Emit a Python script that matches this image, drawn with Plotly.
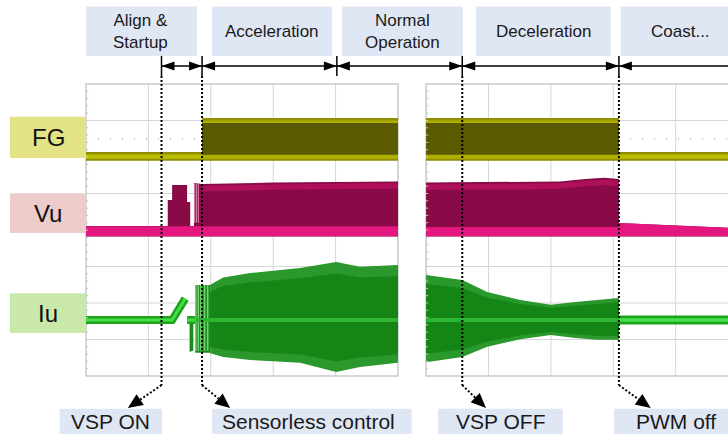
import math
import plotly.graph_objects as go

# ---------------- data (time and level in scope divisions) ----------------
PX_T = 62.4   # pixels per time division (scope grid)
PX_Y = 36.5   # pixels per vertical division

event_t = [1.21, 1.86, 4.02, 6.03, 8.54]          # phase boundaries
dotted_event_t = [1.21, 1.86, 6.03, 8.54]         # events with callouts

phase_labels = ["Align &<br>Startup", "Acceleration", "Normal<br>Operation", "Deceleration", "Coast..."]
phase_x0 = [0.0, 2.02, 4.10, 6.25, 8.57]
phase_x1 = [1.78, 3.94, 6.04, 8.41, 10.6]
phase_center = [0.88, 2.98, 5.07, 7.33, 9.52]

callout_labels = ["VSP ON", "Sensorless control", "VSP OFF", "PWM off"]
callout_x0 = [-0.42, 2.02, 5.64, 8.46]
callout_x1 = [1.22, 5.22, 7.64, 10.6]
callout_center = [0.39, 3.57, 6.65, 9.46]
callout_tip = [0.67, 2.31, 6.41, 9.05]

channel_labels = ["FG", "Vu", "Iu"]
channel_y0 = [5.97, 3.92, 1.18]
channel_y1 = [7.10, 5.01, 2.27]
channel_fill = ["#e3e386", "#eecbcb", "#c9e8aa"]

panel_t0 = [0.0, 5.45]
panel_t1 = [5.0, 10.45]

# FG (frequency generator) envelope
fg_t  = [0.0, 1.86, 1.86, 5.0, None, 5.45, 8.54, 8.54, 10.45]
fg_hi = [6.14, 6.14, 7.07, 7.07, None, 7.07, 7.07, 6.14, 6.14]
fg_lo = [5.90, 5.90, 5.90, 5.90, None, 5.90, 5.90, 5.90, 5.90]
fg_high_t = [1.86, 5.0, None, 5.45, 8.54]
fg_low_t = [0.0, 1.86, None, 8.54, 10.45]

# Vu (phase voltage) envelope
vu_t  = [0.0, 1.31, 1.31, 1.38, 1.38, 1.62, 1.62, 1.67, 1.67, 1.73, 1.73, 1.86, 3.0, 4.5, 5.0,
         None, 5.45, 7.0, 7.6, 8.0, 8.3, 8.54, 8.54, 10.45]
vu_hi = [4.11, 4.11, 4.82, 4.82, 5.23, 5.23, 4.77, 4.77, 4.11, 4.11, 5.29, 5.26, 5.30, 5.33, 5.33,
         None, 5.30, 5.31, 5.33, 5.40, 5.43, 5.40, 4.19, 4.05]
vu_lo = 3.82
vu_base_t  = [0.0, 5.0, None, 5.45, 8.54, 8.54, 10.45]
vu_base_hi = [4.10, 4.10, None, 4.08, 4.08, 4.19, 4.05]
vu_base_lo = 3.83
vu_act_t  = [1.86, 3.0, 4.5, 5.0, None, 5.45, 7.0, 7.6, 8.0, 8.3, 8.54]
vu_act_hi = [5.26, 5.30, 5.33, 5.33, None, 5.30, 5.31, 5.33, 5.40, 5.43, 5.40]
vu_stripe_t = [1.74, 1.77, 1.80]

# Iu (phase current) envelope
iu_center = 1.534
iu_env_t  = [1.99, 2.2, 2.63, 3.43, 4.01, 4.39, 5.0, None, 5.45, 6.03, 6.43, 6.96, 7.45, 7.84, 8.19, 8.54]
iu_env_hi = [2.50, 2.70, 2.82, 2.96, 3.12, 2.99, 3.04, None, 2.77, 2.63, 2.30, 2.08, 1.95, 2.03, 2.08, 2.14]
iu_env_lo = [0.62, 0.52, 0.44, 0.36, 0.11, 0.25, 0.36, None, 0.38, 0.52, 0.80, 1.01, 1.12, 1.04, 0.99, 0.99]
iu_pre_t = [0.0, 1.38, 1.59, None, 1.62, 1.75]
iu_pre_y = [1.534, 1.534, 2.12, None, 1.534, 1.534]
iu_spike_t, iu_spike_hi, iu_spike_lo = [1.66, 1.72], [1.55, 1.55], [0.66, 0.70]
iu_burst_t, iu_burst_hi, iu_burst_lo = [1.75, 1.99], [2.49, 2.49], [0.64, 0.64]
iu_stripe_t = [1.76, 1.80, 1.84, 1.90, 1.95]
iu_post_t = [8.54, 10.45]

FONT = "Liberation Sans, Arial, sans-serif"


# ---------------- helpers ----------------
def _list(v, n):
    return v if isinstance(v, list) else [v] * n


def band_xy(t, hi, lo):
    hi = _list(hi, len(t))
    lo = _list(lo, len(t))
    xs, ys, cur = [], [], []
    segs = []
    for i, v in enumerate(t):
        if v is None:
            if cur:
                segs.append(cur)
            cur = []
        else:
            cur.append(i)
    if cur:
        segs.append(cur)
    for idx in segs:
        ts = [t[i] for i in idx]
        xs += ts + ts[::-1] + [None]
        ys += [hi[i] for i in idx] + [lo[i] for i in idx][::-1] + [None]
    return xs, ys


def band(t, hi, lo, color):
    xs, ys = band_xy(t, hi, lo)
    return go.Scatter(x=xs, y=ys, mode="lines", fill="toself", fillcolor=color,
                      line=dict(width=0, color=color), hoverinfo="skip")


def line(t, y, color, width):
    return go.Scatter(x=t, y=y, mode="lines", line=dict(color=color, width=width),
                      hoverinfo="skip", connectgaps=False)


def offset(vals, d):
    return [None if v is None else v + d for v in vals]


def scale_about(vals, c, k):
    return [None if v is None else c + k * (v - c) for v in vals]


fig = go.Figure()

# ---------------- FG ----------------
fig.add_trace(band(fg_t, fg_hi, fg_lo, "#8f8f00"))
fig.add_trace(band(fg_high_t, [7.0, 7.0, None, 7.0, 7.0], 5.95, "#b0b000"))
fig.add_trace(band(fg_high_t, [6.93, 6.93, None, 6.93, 6.93], 6.06, "#5b5a00"))
fig.add_trace(band(fg_low_t, 6.07, 5.95, "#bdbd00"))

# ---------------- Vu ----------------
fig.add_trace(band(vu_t, vu_hi, vu_lo, "#8a0a47"))
fig.add_trace(band(vu_act_t, offset(vu_act_hi, -0.05), offset(vu_act_hi, -0.20), "#b0105a"))
vs_x, vs_y = [], []
for s in vu_stripe_t:
    vs_x += [s, s, None]
    vs_y += [5.27, 4.2, None]
fig.add_trace(line(vs_x, vs_y, "#d47aa2", 1.2))
fig.add_trace(band(vu_base_t, vu_base_hi, vu_base_lo, "#e3177f"))

# ---------------- Iu ----------------
fig.add_trace(band(iu_env_t, iu_env_hi, iu_env_lo, "#2a982c"))
fig.add_trace(band(iu_env_t, scale_about(iu_env_hi, iu_center, 0.80),
                   scale_about(iu_env_lo, iu_center, 0.80), "#158516"))
fig.add_trace(band(iu_burst_t, iu_burst_hi, iu_burst_lo, "#1a8c1c"))
is_x, is_y = [], []
for s in iu_stripe_t:
    is_x += [s, s, None]
    is_y += [iu_burst_hi[0], iu_burst_lo[0] + 0.05, None]
fig.add_trace(line(is_x, is_y, "#74d274", 1.5))
fig.add_trace(band(iu_spike_t, iu_spike_hi, iu_spike_lo, "#1a8c1c"))
fig.add_trace(line(iu_pre_t, iu_pre_y, "#1fa01f", 8))
fig.add_trace(line(iu_pre_t, iu_pre_y, "#46de46", 3))
fig.add_trace(line(iu_post_t, [iu_center] * 2, "#1fa01f", 9))
fig.add_trace(line(iu_post_t, [iu_center] * 2, "#48e048", 3.5))
fig.add_trace(line([1.75, 5.0, None, 5.45, 8.54], [iu_center, iu_center, None, iu_center, iu_center],
                   "#2db62f", 4))

# ---------------- scope panels (grid) ----------------
shapes = []
tick_x, tick_y = [], []
for t0, t1 in zip(panel_t0, panel_t1):
    for k in range(1, 5):
        shapes.append(dict(type="line", xref="x", yref="y", x0=t0 + k, x1=t0 + k, y0=0, y1=8,
                           line=dict(color="#d6d6d6", width=1), layer="below"))
    for k in range(1, 8):
        shapes.append(dict(type="line", xref="x", yref="y", x0=t0, x1=t1, y0=k, y1=k,
                           line=dict(color="#d6d6d6", width=1), layer="below"))
    shapes.append(dict(type="line", xref="x", yref="y", x0=t0, x1=t1, y0=6.5, y1=6.5,
                       line=dict(color="#c4c4c4", width=2, dash="1px,11px"), layer="below"))
    shapes.append(dict(type="rect", xref="x", yref="y", x0=t0, x1=t1, y0=0, y1=8,
                       line=dict(color="#cacaca", width=1.5), layer="below"))
    for k in range(1, 40):
        tick_x += [t0, t0 + 0.035, None]
        tick_y += [k * 0.2, k * 0.2, None]
fig.add_trace(line(tick_x, tick_y, "#c4c4c4", 1))

# ---------------- phase boxes & texts ----------------
annotations = []
for lab, x0, x1, cx in zip(phase_labels, phase_x0, phase_x1, phase_center):
    shapes.append(dict(type="rect", xref="x", yref="y", x0=x0, x1=x1, y0=8.77, y1=10.12,
                       fillcolor="#dfe6f4", line=dict(width=0), layer="below"))
    annotations.append(dict(x=cx, y=9.45, xref="x", yref="y", text=lab, showarrow=False,
                            font=dict(family=FONT, size=17, color="#1a1a1a"),
                            xanchor="center", yanchor="middle"))

for lab, x0, x1, cx in zip(callout_labels, callout_x0, callout_x1, callout_center):
    shapes.append(dict(type="rect", xref="x", yref="y", x0=x0, x1=x1, y0=-0.90, y1=-1.8,
                       fillcolor="#dfe6f4", line=dict(width=0), layer="below"))
    annotations.append(dict(x=cx, y=-1.24, xref="x", yref="y", text=lab, showarrow=False,
                            font=dict(family=FONT, size=21, color="#1a1a1a"),
                            xanchor="center", yanchor="middle"))

for lab, y0, y1, col in zip(channel_labels, channel_y0, channel_y1, channel_fill):
    shapes.append(dict(type="rect", xref="x", yref="y", x0=-1.218, x1=0, y0=y0, y1=y1,
                       fillcolor=col, line=dict(width=0), layer="below"))
    annotations.append(dict(x=-0.609, y=(y0 + y1) / 2, xref="x", yref="y", text=lab, showarrow=False,
                            font=dict(family=FONT, size=24, color="#111111"),
                            xanchor="center", yanchor="middle"))

# ---------------- timing arrows ----------------
ARROW_Y = 8.49
HEAD_L = 13 / PX_T
HEAD_H = 4.5 / PX_Y
shapes.append(dict(type="line", xref="x", yref="y", x0=event_t[0], x1=10.6, y0=ARROW_Y, y1=ARROW_Y,
                   line=dict(color="black", width=1.5), layer="above"))


def tri(tip_x, tip_y, direction):
    bx = tip_x - direction * HEAD_L
    return f"M{tip_x},{tip_y} L{bx},{tip_y + HEAD_H} L{bx},{tip_y - HEAD_H} Z"


for i in range(len(event_t)):
    shapes.append(dict(type="path", xref="x", yref="y", path=tri(event_t[i], ARROW_Y, -1),
                       fillcolor="black", line=dict(width=0), layer="above"))
    if i + 1 < len(event_t):
        shapes.append(dict(type="path", xref="x", yref="y", path=tri(event_t[i + 1], ARROW_Y, 1),
                           fillcolor="black", line=dict(width=0), layer="above"))
for t in event_t:
    shapes.append(dict(type="line", xref="x", yref="y", x0=t, x1=t, y0=8.22, y1=8.77,
                       line=dict(color="black", width=1.5), layer="above"))

# ---------------- dotted callout lines ----------------
DOT = dict(color="black", width=2, dash="2px,2px")
LINE_END_Y = -0.25
TIP_Y = -0.88
for t, tip in zip(dotted_event_t, callout_tip):
    shapes.append(dict(type="line", xref="x", yref="y", x0=t, x1=t, y0=8.22, y1=LINE_END_Y,
                       line=DOT, layer="above"))
    dxp = (tip - t) * PX_T
    dyp = (TIP_Y - LINE_END_Y) * PX_Y
    n = math.hypot(dxp, dyp)
    ux, uy = dxp / n, dyp / n
    L, W = 15.0, 6.5
    bxp, byp = -ux * L, -uy * L
    base_x = tip + bxp / PX_T
    base_y = TIP_Y + byp / PX_Y
    c1x = tip + (bxp - uy * W) / PX_T
    c1y = TIP_Y + (byp + ux * W) / PX_Y
    c2x = tip + (bxp + uy * W) / PX_T
    c2y = TIP_Y + (byp - ux * W) / PX_Y
    shapes.append(dict(type="line", xref="x", yref="y", x0=t, x1=base_x, y0=LINE_END_Y, y1=base_y,
                       line=DOT, layer="above"))
    shapes.append(dict(type="path", xref="x", yref="y",
                       path=f"M{tip},{TIP_Y} L{c1x},{c1y} L{c2x},{c2y} Z",
                       fillcolor="black", line=dict(width=0), layer="above"))

fig.update_layout(
    width=728, height=434, autosize=False,
    margin=dict(l=0, r=0, t=0, b=0, pad=0),
    paper_bgcolor="white", plot_bgcolor="white", showlegend=False,
    xaxis=dict(range=[-86 / PX_T, 642 / PX_T], visible=False, fixedrange=True),
    yaxis=dict(range=[8 - 350 / PX_Y, 8 + 84 / PX_Y], visible=False, fixedrange=True),
    shapes=shapes, annotations=annotations,
)

fig.write_html("out.html", config={"displayModeBar": False},
               post_script="document.body.style.margin='0px';document.body.style.overflow='hidden';")
